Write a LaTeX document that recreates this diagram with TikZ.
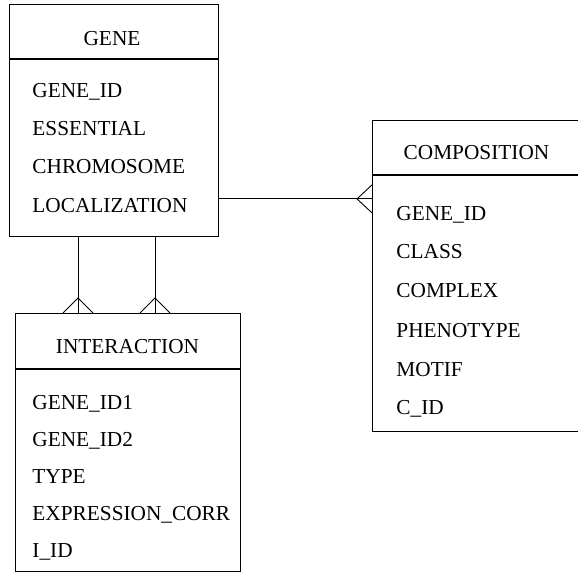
\documentclass[tikz,border=0pt]{standalone}
\usepackage{fontspec}
\setmainfont{Liberation Serif}
\usetikzlibrary{calc}
\begin{document}
\begin{tikzpicture}[x=1pt,y=-1pt,
  line width=0.9pt,
  entbox/.style={draw=black, rectangle, inner sep=0pt, anchor=north west},
  attr/.style={anchor=base west, inner sep=0pt, font=\fontsize{21.3}{24}\selectfont},
  ttl/.style={anchor=base, inner sep=0pt, font=\fontsize{21.3}{24}\selectfont}]
\useasboundingbox (0,0) rectangle (578,577);

% GENE entity
\node[entbox, minimum width=209pt, minimum height=54pt] (ghead) at (9,4) {};
\node[entbox, minimum width=209pt, minimum height=177pt] (gbody) at (ghead.south west) {};
\node[ttl] (gtitle) at (112,46) {GENE};
\node[attr] (g1) at (32,98) {GENE\_ID};
\node[attr] (g2) at (32,136) {ESSENTIAL};
\node[attr] (g3) at (32,174) {CHROMOSOME};
\node[attr] (g4) at (32,213) {LOCALIZATION};

% INTERACTION entity
\node[entbox, minimum width=225pt, minimum height=55pt] (ihead) at (15,313) {};
\node[entbox, minimum width=225pt, minimum height=202pt] (ibody) at (ihead.south west) {};
\node[ttl] (ititle) at (127.5,353) {INTERACTION};
\node[attr] (i1) at (32,409) {GENE\_ID1};
\node[attr] (i2) at (32,446) {GENE\_ID2};
\node[attr] (i3) at (32,483) {TYPE};
\node[attr] (i4) at (32,520) {EXPRESSION\_CORR};
\node[attr] (i5) at (32,557) {I\_ID};

% COMPOSITION entity (runs past the right edge)
\node[entbox, minimum width=209pt, minimum height=54pt] (chead) at (372,120) {};
\node[entbox, minimum width=209pt, minimum height=256pt] (cbody) at (chead.south west) {};
\node[ttl] (ctitle) at (476.5,160) {COMPOSITION};
\node[attr] (c1) at (396,221) {GENE\_ID};
\node[attr] (c2) at (396,259) {CLASS};
\node[attr] (c3) at (396,298) {COMPLEX};
\node[attr] (c4) at (396,337) {PHENOTYPE};
\node[attr] (c5) at (396,376) {MOTIF};
\node[attr] (c6) at (396,414) {C\_ID};

% GENE -- INTERACTION, two one-to-many links
\coordinate (s1) at ($(gbody.south west)+(69,0)$);
\coordinate (s2) at ($(gbody.south west)+(146,0)$);
\coordinate (e1) at (s1 |- ihead.north);
\coordinate (e2) at (s2 |- ihead.north);
\draw (s1) -- (e1);
\draw (s2) -- (e2);
\draw ($(e1)+(-15,0)$) -- ($(e1)+(0,-15)$) -- ($(e1)+(15,0)$);
\draw ($(e2)+(-15,0)$) -- ($(e2)+(0,-15)$) -- ($(e2)+(15,0)$);

% GENE -- COMPOSITION, one-to-many link
\coordinate (s3) at ($(gbody.north east)+(0,140)$);
\coordinate (e3) at (s3 -| cbody.west);
\draw (s3) -- (e3);
\draw ($(e3)+(0,-14)$) -- ($(e3)+(-15,0)$) -- ($(e3)+(0,14)$);
\end{tikzpicture}
\end{document}
